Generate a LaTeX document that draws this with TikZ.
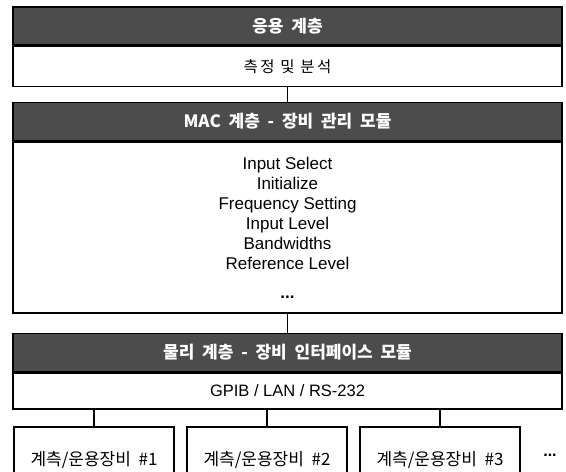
\documentclass[tikz,border=0pt]{standalone}
\usepackage{fontspec}
\setmainfont{Liberation Sans}
\newfontfamily\kr{Noto Sans CJK KR}
\newfontfamily\krhead[WordSpace=2]{Noto Sans CJK KR}
\newfontfamily\krwide[LetterSpace=15]{Noto Sans CJK KR}
\usetikzlibrary{positioning}

\begin{document}
\begin{tikzpicture}
    [
    x=1pt, y=-1pt,
    layer/.style={draw=black, line width=1.4pt, fill=black!70, text=white,
      minimum width=549pt, minimum height=38pt, inner sep=0pt,
      font=\krhead\bfseries\fontsize{17}{19}\selectfont},
    content/.style={draw=black, line width=1.4pt, fill=white,
      minimum width=549pt, inner sep=0pt, align=center},
    device/.style={draw=black, line width=1.4pt, fill=white,
      minimum width=160pt, minimum height=66pt, inner sep=0pt,
      font=\kr\fontsize{17}{19}\selectfont},
    link/.style={draw=black, line width=1.4pt},
    ]
    \clip (0,0) rectangle (566,472);
    \fill [white] (0,0) rectangle (566,472);

    % application layer
    \node (app) at (287.5,26) [layer] {응용 계층};
    \node (meas) [content, below=0pt of app, minimum height=40pt,
      font=\krwide\fontsize{15.5}{17}\selectfont] {측정 및 분석};

    % MAC layer
    \node (mac) at (287.5,121.5) [layer] {MAC 계층 - 장비 관리 모듈};
    \node (tasks) [content, below=0pt of mac, minimum height=171pt,
      font=\fontsize{17}{20}\selectfont]
      {Input Select\\Initialize\\Frequency Setting\\Input Level\\Bandwidths\\Reference Level\\[9pt]\textbf{...}};

    % physical layer
    \node (phy) at (287.5,352.5) [layer] {물리 계층 - 장비 인터페이스 모듈};
    \node (gpib) [content, below=0pt of phy, minimum height=36pt,
      font=\fontsize{16.5}{18}\selectfont] {GPIB / LAN / RS-232};

    % devices
    \node (dev1) at (94,460) [device] {계측/운용장비 \#1};
    \node (dev2) at (267,460) [device] {계측/운용장비 \#2};
    \node (dev3) at (440,460) [device] {계측/운용장비 \#3};
    \node (more) at (550,455) [font=\bfseries\fontsize{16}{18}\selectfont] {...};

    \draw [link] (meas) to (mac);
    \draw [link] (tasks) to (phy);
    \draw [link] (dev1.north) to (dev1.north |- gpib.south);
    \draw [link] (dev2.north) to (dev2.north |- gpib.south);
    \draw [link] (dev3.north) to (dev3.north |- gpib.south);
\end{tikzpicture}
\end{document}
